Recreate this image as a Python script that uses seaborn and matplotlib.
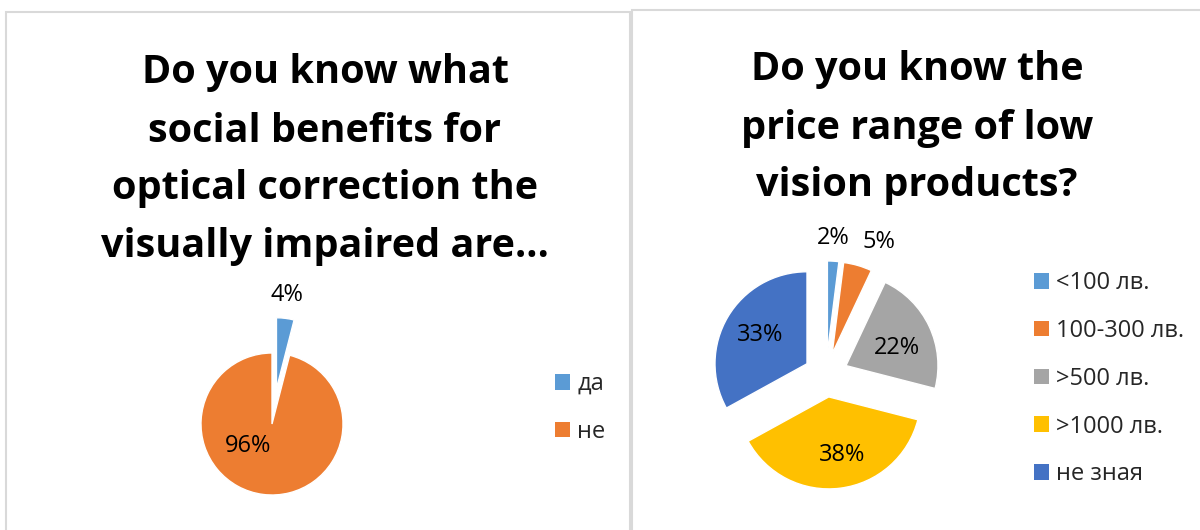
import matplotlib
matplotlib.use("Agg")
import matplotlib.pyplot as plt
from matplotlib.patches import Rectangle, Patch
import numpy as np
import seaborn as sns

# Survey answers
benefit_labels = ["да", "не"]
benefit_values = [4, 96]

price_labels = ["<100 лв.", "100-300 лв.", ">500 лв.", ">1000 лв.", "не зная"]
price_values = [2, 5, 22, 38, 33]

title_benefits = ["Do you know what", "social benefits for",
                  "optical correction the", "visually impaired are…"]
title_prices = ["Do you know the", "price range of low", "vision products?"]

sns.set_theme(style="white")
plt.rcParams["font.family"] = ["Open Sans", "DejaVu Sans"]

office = sns.color_palette(["#5B9BD5", "#ED7D31", "#A5A5A5", "#FFC000", "#4472C4"])

W, H = 1200, 530
fig = plt.figure(figsize=(W / 100, H / 100), dpi=100)
fig.patch.set_facecolor("white")


def fx(px):
    return px / W


def fy(py):
    return 1 - py / H


# chart area frames
for x0, y0, x1, y1 in [(6, 12, 630, 540), (632, 10, 1210, 540)]:
    fig.patches.append(Rectangle((fx(x0), fy(y1)), fx(x1 - x0), (y1 - y0) / H,
                                 transform=fig.transFigure, fill=False,
                                 edgecolor="#D9D9D9", linewidth=1.5))

TITLE_SIZE = 28.5
LABEL_SIZE = 17
for cx, lines, baselines in [(325, title_benefits, [83, 142, 199, 257]),
                             (917, title_prices, [80, 139, 196])]:
    for line, by in zip(lines, baselines):
        fig.text(fx(cx), fy(by), line, ha="center", va="baseline",
                 fontsize=TITLE_SIZE, fontweight="bold", color="black")


def pie_axes(cx, cy, radius, half=160):
    ax = fig.add_axes([fx(cx - half), fy(cy + half), 2 * half / W, 2 * half / H])
    lim = half / radius
    return ax, lim


def draw_pie(ax, lim, values, colors, explode, label_xy):
    ax.pie(values, colors=colors, explode=explode, startangle=90,
           counterclock=False, radius=1,
           wedgeprops=dict(edgecolor="white", linewidth=1))
    ax.set_xlim(-lim, lim)
    ax.set_ylim(-lim, lim)
    ax.set_aspect("equal")
    ax.axis("off")
    for v, (x, y) in zip(values, label_xy):
        ax.text(x, y, f"{v}%", ha="center", va="center",
                fontsize=LABEL_SIZE, color="black")


# left: social benefits
ax1, lim1 = pie_axes(272, 424, 71)
draw_pie(ax1, lim1, benefit_values, office[:2], [0.5, 0],
         [(0.21, 1.82), (-0.34, -0.31)])

# right: price range
ax2, lim2 = pie_axes(826, 375, 92)
draw_pie(ax2, lim2, price_values, office[:5], [0.24] * 5,
         [(0.08, 1.49), (0.57, 1.45), (0.77, 0.29), (0.17, -0.87), (-0.72, 0.43)])


def add_legend(labels, colors, x_left, y_top, spacing):
    handles = [Patch(facecolor=c, edgecolor="none") for c in colors]
    fig.legend(handles, labels, loc="upper left",
               bbox_to_anchor=(fx(x_left), fy(y_top)), bbox_transform=fig.transFigure,
               frameon=False, fontsize=LABEL_SIZE, handlelength=0.64, handleheight=0.64,
               handletextpad=0.3, labelspacing=spacing, borderpad=0, borderaxespad=0)


add_legend(benefit_labels, office[:2], 555, 372, 1.01)
add_legend(price_labels, office[:5], 1034, 271, 1.01)

fig.savefig("out.png", dpi=100, facecolor="white")
